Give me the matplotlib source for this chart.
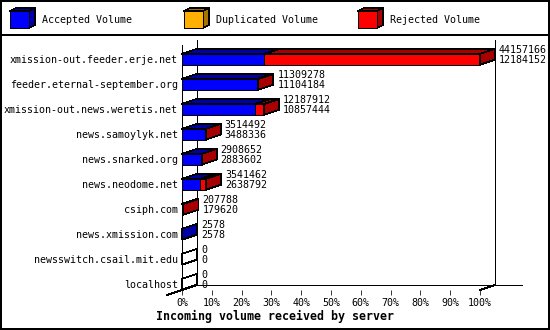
import matplotlib
matplotlib.use("Agg")
import matplotlib.pyplot as plt
from matplotlib.patches import Polygon, Rectangle
import numpy as np

# ---------------- data ----------------
servers = [
    "xmission-out.feeder.erje.net",
    "feeder.eternal-september.org",
    "xmission-out.news.weretis.net",
    "news.samoylyk.net",
    "news.snarked.org",
    "news.neodome.net",
    "csiph.com",
    "news.xmission.com",
    "newsswitch.csail.mit.edu",
    "localhost",
]
total_volume = [44157166, 11309278, 12187912, 3514492, 2908652, 3541462, 207788, 2578, 0, 0]
accepted_volume = [12184152, 11104184, 10857444, 3488336, 2883602, 2638792, 179620, 2578, 0, 0]
duplicated_volume = [0, 0, 0, 0, 0, 0, 0, 0, 0, 0]
series_names = ["Accepted Volume", "Duplicated Volume", "Rejected Volume"]
pct_ticks = [0, 10, 20, 30, 40, 50, 60, 70, 80, 90, 100]
pct_tick_labels = ["0%", "10%", "20%", "30%", "40%", "50%", "60%", "70%", "80%", "90%", "100%"]
xlabel = "Incoming volume received by server"

# ---------------- style ----------------
FACE = ["#0000ff", "#ffb000", "#ff0000"]
DARK = ["#0000a8", "#a87400", "#a80000"]
MONO = "DejaVu Sans Mono"
DPI = 100
W, H = 550, 330
PT = 72.0 / DPI  # points per pixel
LW = 0.55
AA = False

fig = plt.figure(figsize=(W / DPI, H / DPI), dpi=DPI)
fig.patch.set_facecolor("white")

# overlay axes in pixel units for frame and legend
bg = fig.add_axes([0, 0, 1, 1])
bg.set_xlim(0, W)
bg.set_ylim(H, 0)
bg.axis("off")
bg.plot([0.5, W - 1, W - 1, 0.5, 0.5], [0.5, 0.5, H - 1, H - 1, 0.5], color="black", lw=1.2,
        antialiased=AA)
bg.plot([0, W], [35, 35], color="black", lw=1.2, antialiased=AA)

legend_x = [10, 184, 358]
for lx, name, fc, dc in zip(legend_x, series_names, FACE, DARK):
    bg.add_patch(Polygon([(lx, 11), (lx + 6, 8), (lx + 25, 8), (lx + 19, 11)],
                         closed=True, facecolor=dc, edgecolor="black", lw=LW, antialiased=AA))
    bg.add_patch(Polygon([(lx + 19, 11), (lx + 25, 8), (lx + 25, 25), (lx + 19, 28)],
                         closed=True, facecolor=dc, edgecolor="black", lw=LW, antialiased=AA))
    bg.add_patch(Rectangle((lx, 11), 19, 17, facecolor=fc, edgecolor="black", lw=LW,
                           antialiased=AA))
    bg.text(lx + 32, 20, name, ha="left", va="center", fontsize=7.2, family=MONO)

# main axes = front plane of the 3D chart
ROW_TOP = -(59.3 - 45) / 25.0
ROW_BOTTOM = (290 - 59.3) / 25.0
ax = fig.add_axes([182 / W, (H - 290) / H, 298 / W, 245 / H])
ax.set_xlim(0, 100)
ax.set_ylim(ROW_BOTTOM, ROW_TOP)
ax.patch.set_alpha(0)
for s in ax.spines.values():
    s.set_visible(False)

# depth offset (15 px right, 5 px up) in data units
p0 = ax.transData.transform((0, 0))
dx, dy = ax.transData.inverted().transform(p0 + np.array([15.0, 5.0]))

# frame lines
fk = dict(color="black", lw=LW, clip_on=False, zorder=1, antialiased=AA)
ext = ax.transData.inverted().transform(p0 + np.array([27.0, 0]))[0]
ax.plot([0, 0], [ROW_TOP, ROW_BOTTOM], **fk)
ax.plot([dx, dx], [ROW_TOP + dy, ROW_BOTTOM + dy], **fk)
ax.plot([100 + dx, 100 + dx], [ROW_TOP + dy, ROW_BOTTOM + dy], **fk)
ax.plot([dx, 100 + dx + ext], [ROW_BOTTOM + dy, ROW_BOTTOM + dy], **fk)
ax.plot([-dx, dx], [ROW_BOTTOM - dy, ROW_BOTTOM + dy], **fk)
ax.plot([100, 100 + dx], [ROW_BOTTOM, ROW_BOTTOM + dy], **fk)

# bars
vmax = max(total_volume)
hh = 0.215
pk = dict(edgecolor="black", lw=LW, clip_on=False, zorder=3, antialiased=AA)
for i, (tot, acc, dup) in enumerate(zip(total_volume, accepted_volume, duplicated_volume)):
    rej = tot - acc - dup
    vals = [acc, dup, rej]
    top, bot = i - hh, i + hh
    x0 = 0.0
    last = None
    for k, v in enumerate(vals):
        if v <= 0:
            continue
        x1 = x0 + v / vmax * 100.0
        ax.add_patch(Rectangle((x0, top), x1 - x0, bot - top, facecolor=FACE[k], **pk))
        ax.add_patch(Polygon([(x0, top), (x0 + dx, top + dy), (x1 + dx, top + dy), (x1, top)],
                             closed=True, facecolor=DARK[k], **pk))
        x0 = x1
        last = k
    sc = DARK[last] if last is not None else "none"
    ax.add_patch(Polygon([(x0, top), (x0 + dx, top + dy), (x0 + dx, bot + dy), (x0, bot)],
                         closed=True, facecolor=sc, **pk))
    ax.annotate(str(tot), xy=(x0 + dx, i), xytext=(4 * PT, 9 * PT), textcoords="offset points",
                ha="left", va="center", fontsize=7.2, family=MONO, annotation_clip=False)
    ax.annotate(str(acc), xy=(x0 + dx, i), xytext=(4 * PT, -1 * PT), textcoords="offset points",
                ha="left", va="center", fontsize=7.2, family=MONO, annotation_clip=False)

# ticks
ax.set_xticks(pct_ticks)
ax.set_xticklabels(pct_tick_labels, fontsize=7.2, family=MONO)
ax.tick_params(axis="x", length=5 * PT, width=LW, pad=2, direction="out")
ax.set_yticks(range(len(servers)))
ax.set_yticklabels(servers, fontsize=7.2, family=MONO)
ax.tick_params(axis="y", length=0, pad=4 * PT)

fig.text(0.5, 1 - 316.7 / H, xlabel, ha="center", va="center", fontsize=8.4,
         fontweight="bold", family=MONO)

fig.savefig("out.png", dpi=DPI)
